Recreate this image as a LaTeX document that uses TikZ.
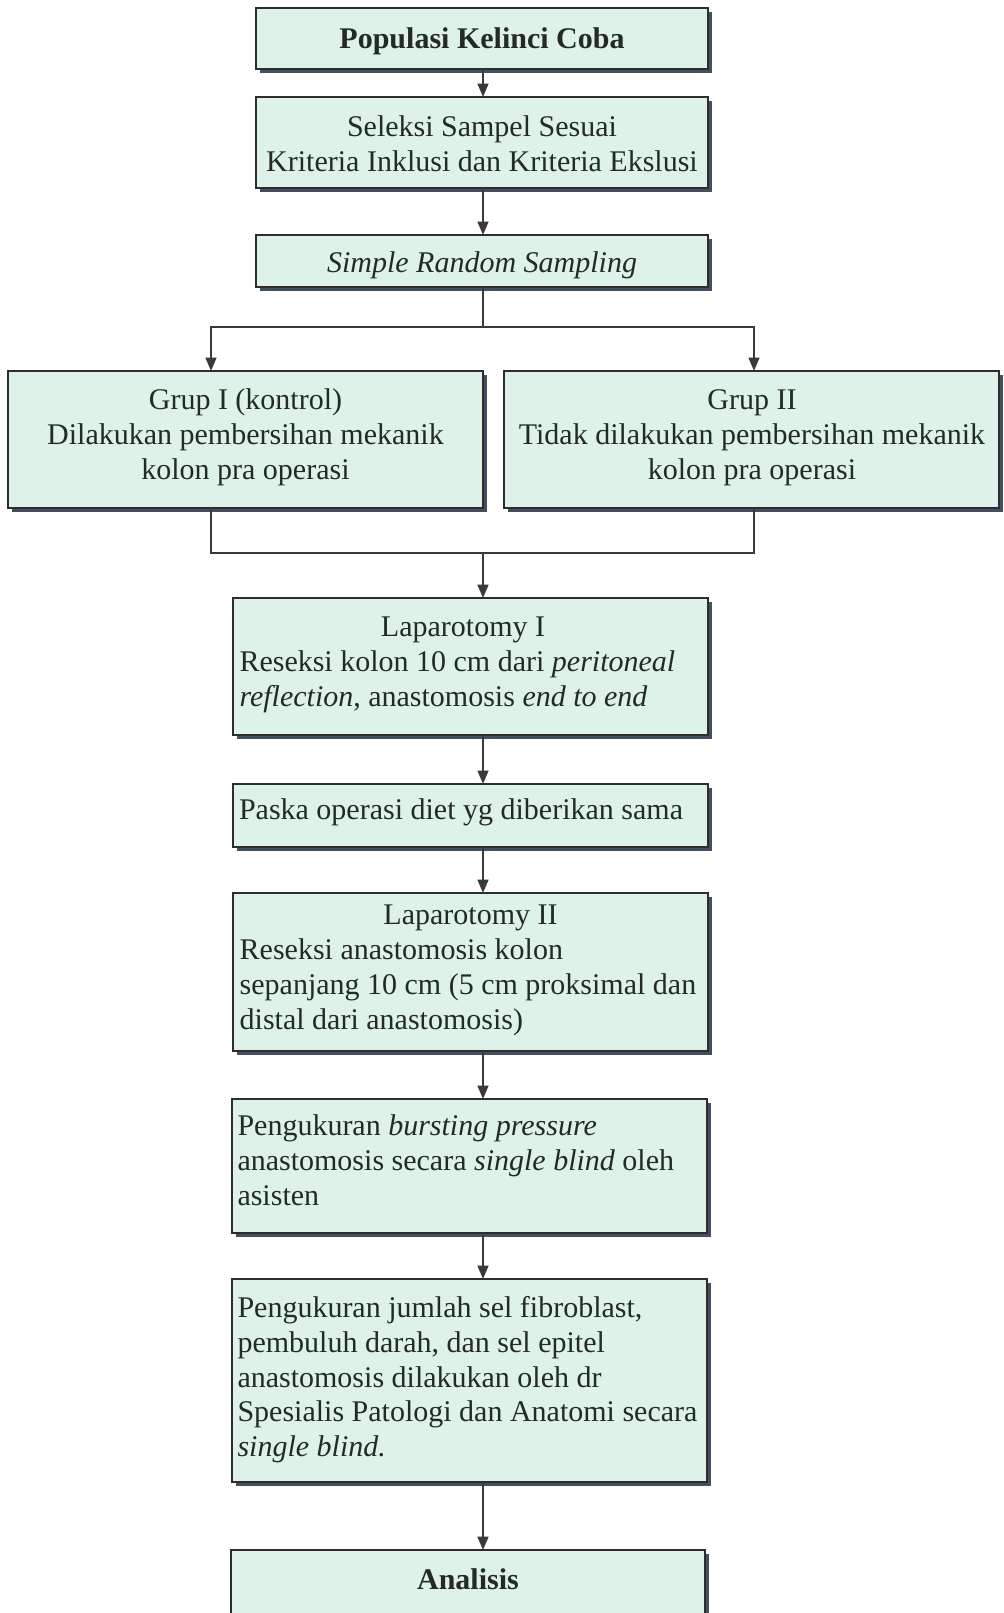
\documentclass[tikz,border=0pt]{standalone}
\usepackage{fontspec}
\setmainfont{Liberation Serif}
\usetikzlibrary{arrows.meta,shadows,fit}
\definecolor{boxfill}{RGB}{222,242,234}
\definecolor{boxline}{RGB}{45,45,45}
\definecolor{shadowc}{RGB}{68,80,98}
\definecolor{linec}{RGB}{58,58,58}
\definecolor{textc}{RGB}{36,42,38}
\newcommand{\myTop}{\rule{0pt}{20pt}}
\begin{document}
\begin{tikzpicture}[x=0.75pt,y=-0.75pt,
  box/.style={draw=boxline, line width=1.1pt, fill=boxfill, inner sep=0pt, outer sep=0pt,
    drop shadow={shadow xshift=3.2pt, shadow yshift=-3.2pt, fill=shadowc, opacity=1}},
  txt/.style={inner sep=0pt, outer sep=0pt, text=textc, font=\fontsize{22.5}{26}\selectfont},
  conn/.style={draw=linec, line width=1.7pt},
  arr/.style={conn, -{Triangle[length=10pt,width=8pt]}}]
\fill[white] (0,0) rectangle (1003,1613);
\useasboundingbox (0,0) rectangle (1003,1613);

% boxes
\node[box, fit={(256,8) (708,69)}] (n1) {};
\node[box, fit={(256,97) (708,188)}] (n2) {};
\node[box, fit={(256,235) (708,287)}] (n3) {};
\node[box, fit={(8,371) (483,508)}] (g1) {};
\node[box, fit={(504,371) (999,508)}] (g2) {};
\node[box, fit={(233,598) (708,735)}] (n4) {};
\node[box, fit={(233,784) (708,847)}] (n5) {};
\node[box, fit={(233,893) (708,1051)}] (n6) {};
\node[box, fit={(232,1099) (707,1233)}] (n7) {};
\node[box, fit={(232,1279) (707,1482)}] (n8) {};
\node[box, fit={(231,1550) (705,1660)}] (n9) {};

% texts
\node[txt, anchor=north] (t1) at (482,22) {\myTop\textbf{Populasi Kelinci Coba}};
\node[txt, anchor=north, align=center] (t2) at (482,110) {\myTop Seleksi Sampel Sesuai\\Kriteria Inklusi dan Kriteria Ekslusi};
\node[txt, anchor=north] (t3) at (482,246) {\myTop\textit{Simple Random Sampling}};
\node[txt, anchor=north, align=center] (tg1) at (245.5,383) {\myTop Grup I (kontrol)\\Dilakukan pembersihan mekanik\\kolon pra operasi};
\node[txt, anchor=north, align=center] (tg2) at (752,383) {\myTop Grup II\\Tidak dilakukan pembersihan mekanik\\kolon pra operasi};
\node[txt, anchor=north] (t4a) at (463,610) {\myTop Laparotomy I};
\node[txt, anchor=north west, align=left] (t4) at (239.5,645)
  {\myTop Reseksi kolon 10 cm dari \textit{peritoneal}\\\textit{reflection}, anastomosis \textit{end to end}};
\node[txt, anchor=north west] (t5) at (239,793) {\myTop Paska operasi diet yg diberikan sama};
\node[txt, anchor=north] (t6a) at (470.5,898) {\myTop Laparotomy II};
\node[txt, anchor=north west, align=left] (t6) at (239.7,933)
  {\myTop Reseksi anastomosis kolon\\sepanjang 10 cm (5 cm proksimal dan\\distal dari anastomosis)};
\node[txt, anchor=north west, align=left] (t7) at (237.5,1109)
  {\myTop Pengukuran \textit{bursting pressure}\\anastomosis secara \textit{single blind} oleh\\asisten};
\node[txt, anchor=north west, align=left] (t8) at (237.5,1291)
  {\myTop Pengukuran jumlah sel fibroblast,\\pembuluh darah, dan sel epitel\\anastomosis dilakukan oleh dr\\Spesialis Patologi dan Anatomi secara\\\textit{single blind.}};
\node[txt, anchor=north] (t9) at (468,1563) {\myTop\textbf{Analisis}};

% connectors
\coordinate (ax) at (483,0);
\coordinate (sl) at (211,327);
\coordinate (sr) at (754,327);
\coordinate (ml) at (211,553);
\coordinate (mr) at (754,553);
\draw[arr] (n1.south -| ax) -- (n2.north -| ax);
\draw[arr] (n2.south -| ax) -- (n3.north -| ax);
\draw[arr] (n3.south -| ax) |- (sl) -- (g1.north -| sl);
\draw[arr] (n3.south -| ax) |- (sr) -- (g2.north -| sr);
\draw[conn] (g1.south -| ml) -- (ml) -- (mr) -- (g2.south -| mr);
\draw[arr] (ax |- ml) -- (n4.north -| ax);
\draw[arr] (n4.south -| ax) -- (n5.north -| ax);
\draw[arr] (n5.south -| ax) -- (n6.north -| ax);
\draw[arr] (n6.south -| ax) -- (n7.north -| ax);
\draw[arr] (n7.south -| ax) -- (n8.north -| ax);
\draw[arr] (n8.south -| ax) -- (n9.north -| ax);
\end{tikzpicture}
\end{document}
